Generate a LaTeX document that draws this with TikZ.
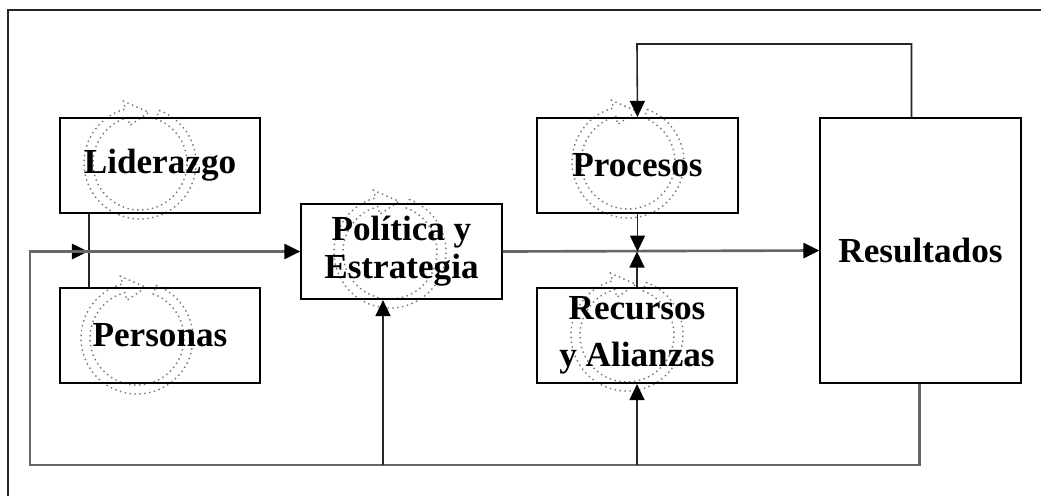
\documentclass[tikz,border=0pt]{standalone}
\usepackage{fontspec}
\setmainfont{Liberation Serif}
\usetikzlibrary{arrows.meta}
\usetikzlibrary{calc}

\newcommand{\ciclo}[1]{%
  \draw[giro, shift={(#1)}] (-70:56) arc[start angle=-70, end angle=255, radius=56]
    -- (255:64) -- (280:51.5) -- (255:39) -- (255:47)
    arc[start angle=255, end angle=-70, radius=47] -- cycle;}

\begin{document}
\begin{tikzpicture}[x=0.01cm, y=-0.01cm, >={Triangle[length=1.6mm,width=1.5mm,color=black]},
		caja/.style={draw, line width=0.6pt, minimum width=2cm, minimum height=0.95cm, inner sep=0pt, align=center, font=\bfseries},
		linea/.style={draw=black!60, line width=0.75pt},
		guia/.style={draw=black!85, line width=0.45pt},
		giro/.style={draw=black!55, densely dotted, line width=0.4pt}]
		\useasboundingbox (0,0) rectangle (1041,496);
		\draw [line width=0.7pt, black!85] (1041,10) -- (8,10) -- (8,496);
		
		\ciclo{140,163}
		\ciclo{137,338}
		\ciclo{390,252}
		\ciclo{628,162}
		\ciclo{627,335}
		
		\node (lid) [caja] at (160,165.5) {Liderazgo};
		\node (per) [caja] at (160,335.5) {Personas};
		\node (pol) [caja] at (401.5,251.5) {Política y\\[-1.2pt]Estrategia};
		\node (pro) [caja] at (637.5,165.5) {Procesos};
		\node (rec) [caja] at (637,335.5) {Recursos\\[1.4pt]y Alianzas};
		\node (res) [caja, minimum height=2.65cm] at (920.5,250.5) {Resultados};
		
		\coordinate (esq) at (30,465);
		\coordinate (ent) at (30,251.5);
		\coordinate (sub) at (383,465);
		\coordinate (arriba) at (637,44);
		
		\draw [guia] ($(lid.south west)+(30,0)$) -- ($(per.north west)+(30,0)$);
		\draw [linea,->] ($(res.south)+(-1,0)$) |- (esq) -- (ent) -- ++(58,0);
		\draw [linea,->] (ent) -- (pol.west);
		\draw [linea,->] (pol.east) -- (res.west);
		\draw [guia,->] (sub) -- (sub |- pol.south);
		\draw [guia,->] (rec.south |- esq) -- (rec.south);
		\draw [guia,->] (pro.south) -- (pro.south |- pol.east);
		\draw [guia,->] (rec.north) -- (rec.north |- pol.east);
		\draw [guia,->] ($(res.north)+(-9,0)$) |- (arriba) -- (pro.north);
	\end{tikzpicture}
\end{document}
